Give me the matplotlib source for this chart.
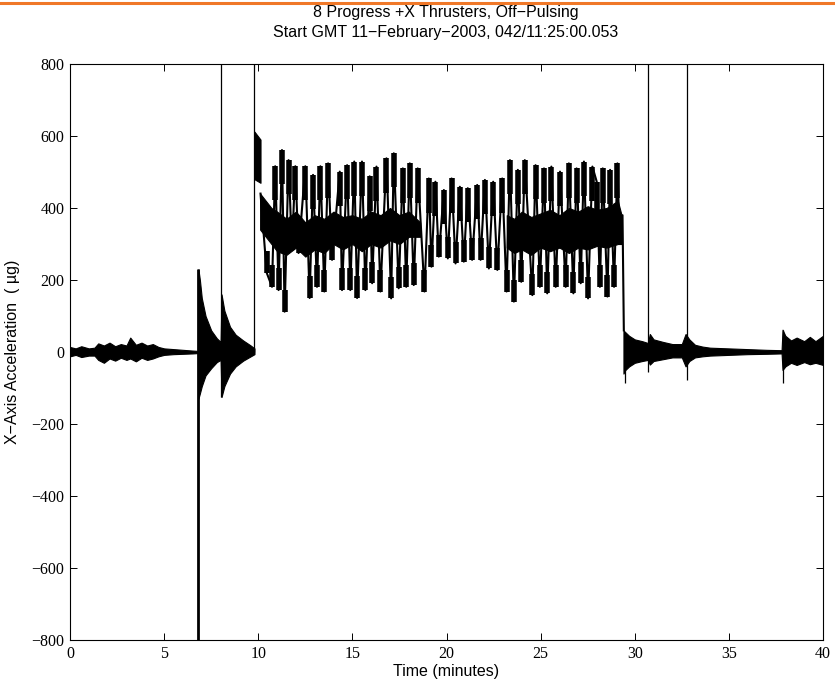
import numpy as np
import matplotlib
matplotlib.use("Agg")
import matplotlib.pyplot as plt
from matplotlib.lines import Line2D

# text
title1 = "8 Progress +X Thrusters, Off\u2212Pulsing"
title2 = "Start GMT 11\u2212February\u22122003, 042/11:25:00.053"
xlab = "Time (minutes)"
ylab = "X\u2212Axis Acceleration  ( \u00b5g)"

# noise envelope before thrusting (minutes, ug)
pre_t = [0, 0.3, 0.6, 1.0, 1.3, 1.5, 1.8, 2.1, 2.4, 2.7, 3.0, 3.2, 3.5, 3.8, 4.1, 4.4,
         4.7, 5.0, 5.5, 6.0, 6.5, 6.8,
         6.82, 6.9, 7.0, 7.2, 7.5, 7.8, 8.0, 8.05, 8.2, 8.5, 8.8, 9.2, 9.6, 9.8]
pre_hi = [14, 10, 16, 10, 12, 24, 18, 26, 16, 22, 18, 40, 20, 26, 18, 22,
          14, 10, 8, 6, 4, 3,
          230, 200, 150, 100, 60, 38, 28, 160, 115, 70, 48, 32, 18, 10]
pre_lo = [-12, -8, -14, -10, -10, -22, -30, -18, -24, -16, -22, -18, -26, -16, -22, -18,
          -12, -8, -6, -5, -4, -3,
          -130, -115, -95, -65, -45, -28, -22, -125, -95, -60, -40, -24, -12, -6]

# noise envelope after thrusting
post_t = [29.4, 29.5, 29.7, 30.0, 30.4, 30.7, 30.8, 31.0, 31.5, 32.0, 32.5, 32.7,
          32.9, 33.2, 33.6, 34, 35, 36, 37, 37.8, 37.85, 38.0, 38.3, 38.6, 39, 39.3,
          39.6, 40]
post_hi = [60, 55, 45, 35, 30, 25, 50, 35, 28, 22, 22, 50,
           35, 20, 15, 12, 10, 8, 6, 5, 62, 45, 32, 40, 30, 42,
           30, 45]
post_lo = [-60, -50, -40, -30, -25, -22, -35, -25, -20, -15, -15, -40,
           -25, -15, -12, -10, -8, -6, -5, -4, -50, -40, -30, -36, -28, -34,
           -30, -36]

# first high block right after thruster start
block_t = [9.8, 10.12]
block_hi = [612, 590]
block_lo = [480, 470]

# dense middle band during pulsing
band1_t = [10.1, 10.4, 10.7, 11.0, 11.5, 12.0, 12.5, 13.0, 13.5, 14.0, 14.5, 15.0,
           15.5, 16.0, 16.5, 17.0, 17.5, 18.0, 18.6]
band1_lo = [340, 320, 300, 280, 270, 290, 265, 285, 275, 300, 285, 300,
            280, 300, 290, 310, 300, 320, 320]
band1_hi = [440, 420, 400, 390, 370, 390, 360, 380, 370, 390, 375, 380,
            370, 390, 380, 400, 380, 390, 360]
band2_t = [23.2, 23.6, 24.0, 24.5, 25.0, 25.5, 26.0, 26.5, 27.0, 27.5, 28.0, 28.5,
           29.1, 29.3]
band2_lo = [290, 275, 285, 270, 290, 280, 290, 275, 290, 285, 295, 290, 300, 300]
band2_hi = [380, 370, 390, 375, 385, 395, 380, 400, 390, 405, 395, 400, 420, 380]

# pulse peaks and troughs
peak_t = [10.9, 11.26, 11.61, 11.97, 12.5, 12.91, 13.3, 13.71, 14.33, 14.72, 15.1, 15.51, 15.92,
          16.28, 16.81, 17.2, 17.68, 18.05, 18.47, 19.06, 19.41, 19.86, 20.27, 20.71, 21.13,
          21.63, 22.04, 22.48, 22.96, 23.37, 23.79, 24.16, 24.73, 25.18, 25.57, 26.03, 26.5,
          26.91, 27.3, 27.75, 27.98, 28.3, 28.69, 29.08]
peak_v = [516, 561, 533, 516, 516, 492, 516, 524, 501, 519, 529, 529, 488,
          515, 538, 552, 510, 524, 510, 482, 473, 450, 482, 459, 455,
          464, 478, 473, 482, 533, 506, 533, 519, 510, 515, 501, 524,
          510, 529, 515, 473, 510, 506, 524]
trough_t = [10.45, 10.73, 11.08, 11.4, 11.79, 12.14, 12.73, 13.12, 13.51, 13.92, 14.45, 14.89,
            15.25, 15.69, 16.05, 16.49, 17.06, 17.46, 17.86, 18.26, 18.83, 19.2, 19.59, 20.07,
            20.48, 20.92, 21.36, 21.81, 22.25, 22.7, 23.19, 23.58, 23.97, 24.56, 24.96, 25.35,
            25.8, 26.33, 26.74, 27.13, 27.52, 28.15, 28.55, 28.9]
trough_v = [220, 181, 172, 112, 283, 275, 150, 181, 168, 256, 172, 172,
            150, 172, 191, 168, 149, 177, 181, 186, 168, 237, 265, 260,
            246, 251, 256, 256, 232, 228, 168, 140, 195, 158, 181, 163,
            181, 181, 163, 191, 149, 181, 154, 181]
# start / end of pulse train
edge_t = [10.12, 29.2, 29.35, 29.42]
edge_v = [440, 300, 380, 60]

# isolated spikes
spike_t = [6.82, 8.03, 9.78, 29.5, 30.73, 32.75, 37.88]
spike_lo = [-900, -125, 0, -85, -55, -78, -87]
spike_hi = [230, 900, 900, 50, 900, 900, 60]

blob_hi = 95
blob_lo = 60

plt.rcParams['font.family'] = ['Liberation Sans', 'DejaVu Sans']

fig = plt.figure(figsize=(8.35, 6.85), dpi=100)
ax = fig.add_axes([70 / 835, 45 / 685, 753 / 835, 576 / 685])

k = 'black'
ax.fill_between(pre_t, pre_lo, pre_hi, color=k, lw=0.8)
ax.fill_between(post_t, post_lo, post_hi, color=k, lw=0.8)
ax.fill_between(block_t, block_lo, block_hi, color=k, lw=0.8)
ax.fill_between(band1_t, band1_lo, band1_hi, color=k, lw=0.8)
ax.fill_between(band2_t, band2_lo, band2_hi, color=k, lw=0.8)

zt = np.concatenate([peak_t, trough_t, edge_t])
zv = np.concatenate([peak_v, trough_v, edge_v])
order = np.argsort(zt)
ax.plot(zt[order], zv[order], color=k, lw=1.5)
ax.vlines(peak_t, np.array(peak_v) - blob_hi, peak_v, color=k, lw=4.0)
ax.vlines(trough_t, trough_v, np.array(trough_v) + blob_lo, color=k, lw=4.0)

ax.vlines(spike_t[0], spike_lo[0], spike_hi[0], color=k, lw=2.0)
ax.vlines(spike_t[1:], spike_lo[1:], spike_hi[1:], color=k, lw=0.9)

ax.set_xlim(0, 40)
ax.set_ylim(-800, 800)
ax.set_xticks(np.arange(0, 41, 5))
ax.set_yticks(np.arange(-800, 801, 200))
ax.tick_params(direction='in', length=5, width=0.7, top=True, right=True,
               labelsize=11.5, pad=4)
for lab in ax.get_xticklabels() + ax.get_yticklabels():
    lab.set_family(['Liberation Serif', 'DejaVu Serif'])
for s in ax.spines.values():
    s.set_linewidth(0.8)

ax.set_xlabel(xlab, fontsize=11.5, labelpad=2)
ax.set_ylabel(ylab, fontsize=11.5, labelpad=8)
fig.text(446 / 835, 1 - 13 / 685, title1, ha='center', va='center', fontsize=11.5)
fig.text(446 / 835, 1 - 33 / 685, title2, ha='center', va='center', fontsize=11.5)

# orange header rule
fig.add_artist(Line2D([0, 1], [1 - 2.5 / 685] * 2, color='#f07828', lw=2.2,
                      transform=fig.transFigure))

fig.savefig('out.png', dpi=100)
